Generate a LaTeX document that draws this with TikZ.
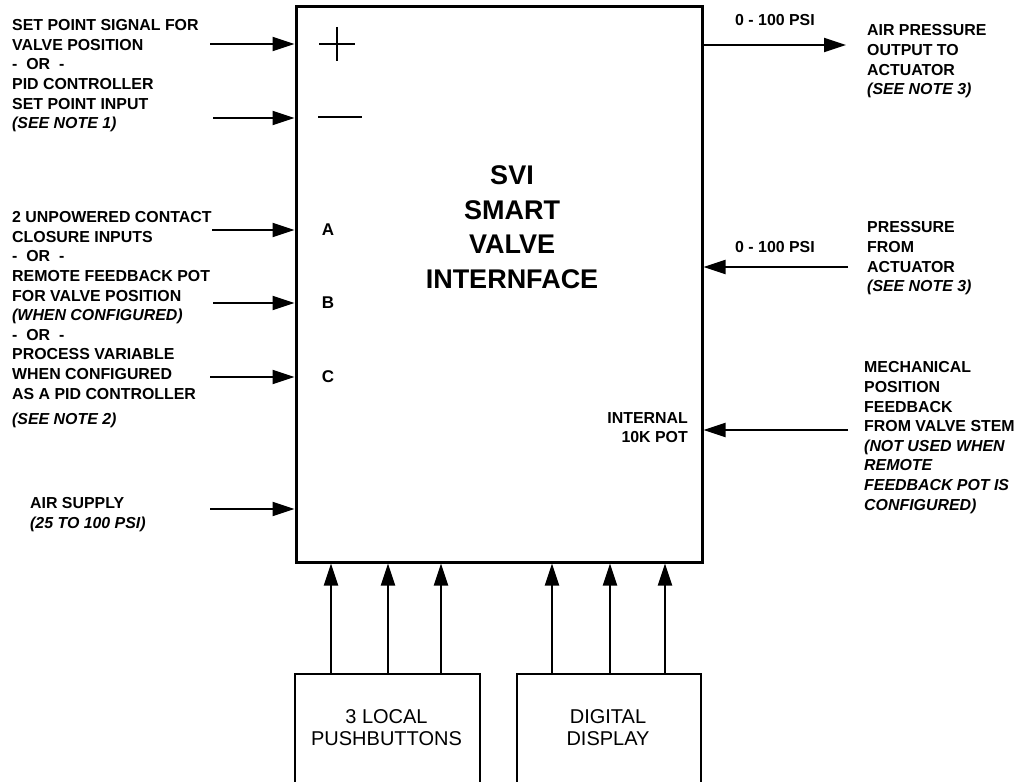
\documentclass[tikz,border=0pt]{standalone}
\usepackage{fontspec}
\setmainfont{Liberation Sans}
\usetikzlibrary{arrows.meta}
\begin{document}
\begin{tikzpicture}[x=1pt,y=-1pt,
  arr/.style={-{Triangle[length=22pt,width=14pt]}, line width=2pt},
  lbl/.style={font=\fontsize{15.9}{19.6}\selectfont\bfseries, inner sep=0pt, align=left, anchor=north west},
  lblr/.style={font=\fontsize{15.9}{19.6}\selectfont\bfseries, inner sep=0pt, align=right, anchor=north east},
  psi/.style={font=\fontsize{15.9}{19.6}\selectfont\bfseries, inner sep=0pt},
  letter/.style={font=\fontsize{17}{20}\selectfont\bfseries, inner sep=0pt},
  subbox/.style={draw, line width=1.5pt, minimum height=140pt, inner sep=0pt, anchor=north west},
  subtxt/.style={font=\fontsize{20}{22}\selectfont, inner sep=0pt, align=center}
]
\useasboundingbox (0,0) rectangle (1019,781);
\clip (0,0) rectangle (1019,781);

% main box
\node[draw, line width=3pt, minimum width=406pt, minimum height=555pt, inner sep=0pt] (svi) at (499,284.5) {};
\node[font=\fontsize{27}{34.5}\selectfont\bfseries, align=center, inner sep=0pt] (title) at (512,227) {SVI\\SMART\\VALVE\\INTERNFACE};

% plus / minus
\draw[line width=2pt] (319,44) -- (355,44) (337,27) -- (337,61);
\draw[line width=2pt] (318,117) -- (362,117);

% letters
\node[letter] (la) at (328,230) {A};
\node[letter] (lb) at (328,303) {B};
\node[letter] (lc) at (328,377) {C};

% left texts
\node[lbl] (t1) at (12,19.4) {SET POINT SIGNAL FOR\\VALVE POSITION\\-\ \ OR\ \ -\\PID CONTROLLER\\SET POINT INPUT\\\textit{(SEE NOTE 1)}};
\node[lbl] (t2) at (12,211.4) {2 UNPOWERED CONTACT\\CLOSURE INPUTS\\-\ \ OR\ \ -\\REMOTE FEEDBACK POT\\FOR VALVE POSITION\\\textit{(WHEN CONFIGURED)}\\-\ \ OR\ \ -\\PROCESS VARIABLE\\WHEN CONFIGURED\\AS A PID CONTROLLER};
\node[lbl] (t2n) at (12,412.5) {\textit{(SEE NOTE 2)}};
\node[lbl] (t3) at (30,497.5) {AIR SUPPLY\\\textit{(25 TO 100 PSI)}};

% left arrow start points
\coordinate (s1) at (210,44);
\coordinate (s2) at (213,118);
\coordinate (s3) at (212,230);
\coordinate (s4) at (213,303);
\coordinate (s5) at (210,377);
\coordinate (s6) at (210,509);
\foreach \s in {s1,s2,s3,s4,s5,s6}
  \draw[arr] (\s) -- (\s -| svi.west);

% right side
\node[psi] (p1) at (775,20) {0 - 100 PSI};
\node[psi] (p2) at (775,247) {0 - 100 PSI};
\node[lbl] (r1) at (867,24.5) {AIR PRESSURE\\OUTPUT TO\\ACTUATOR\\\textit{(SEE NOTE 3)}};
\node[lbl] (r2) at (867,221.5) {PRESSURE\\FROM\\ACTUATOR\\\textit{(SEE NOTE 3)}};
\node[lbl] (r3) at (864,361.5) {MECHANICAL\\POSITION\\FEEDBACK\\FROM VALVE STEM\\\textit{(NOT USED WHEN}\\\textit{REMOTE}\\\textit{FEEDBACK POT IS}\\\textit{CONFIGURED)}};
\node[lblr] (pot) at (688,412) {INTERNAL\\10K POT};

\coordinate (e1) at (846,45);
\coordinate (e2) at (848,267);
\coordinate (e3) at (848,430);
\draw[arr] (e1 -| svi.east) -- (e1);
\draw[arr] (e2) -- (e2 -| svi.east);
\draw[arr] (e3) -- (e3 -| svi.east);

% bottom boxes
\node[subbox, minimum width=185pt] (pb) at (294,673) {};
\node[subbox, minimum width=184pt] (dd) at (516,673) {};
\node[subtxt] (pbt) at (386.5,728) {3 LOCAL\\PUSHBUTTONS};
\node[subtxt] (ddt) at (608,728) {DIGITAL\\DISPLAY};

\foreach \x in {331,388,441}
  \draw[arr] (pb.north -| \x,0) -- (svi.south -| \x,0);
\foreach \x in {552,610,665}
  \draw[arr] (dd.north -| \x,0) -- (svi.south -| \x,0);
\end{tikzpicture}
\end{document}
